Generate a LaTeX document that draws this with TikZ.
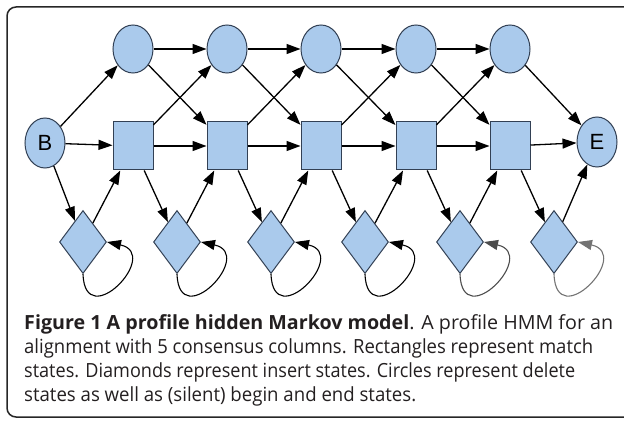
\documentclass[tikz,border=0pt]{standalone}
\usepackage{fontspec}
\usepackage{graphicx}
\setmainfont{Open Sans}
\newfontfamily\nodefont{Liberation Sans}
\usetikzlibrary{shapes.geometric,arrows.meta}
\definecolor{nfill}{RGB}{170,202,236}
\definecolor{nline}{RGB}{50,64,84}
\definecolor{capcol}{RGB}{35,31,32}
\newcommand\fitw[2]{\setbox0=\hbox{#2}\pgfmathsetmacro\fitfac{#1pt/\the\wd0}\scalebox{\fitfac}[1]{\box0}}
\begin{document}
\begin{tikzpicture}[x=1pt,y=-1pt,
  st/.style={draw=nline, fill=nfill, line width=1pt, inner sep=0pt},
  del/.style={st, ellipse, minimum width=40pt, minimum height=48pt},
  mat/.style={st, rectangle, minimum width=40pt, minimum height=48pt},
  ins/.style={st, diamond, minimum width=47pt, minimum height=63pt},
  conn/.style={-{Triangle[length=14pt,width=10pt]}, line width=1.3pt, black},
  loopc/.style={-{Triangle[length=14pt,width=10pt]}, line width=1.1pt},
  captxt/.style={anchor=base west, inner sep=0pt, text=capcol, font=\fontsize{19.5}{24}\selectfont}
]
\useasboundingbox (0,0) rectangle (624,422);
\draw[line width=1.5pt, draw=black!85, rounded corners=9pt] (7,7) rectangle (640,417);

% begin / end
\node[st, ellipse, minimum width=40pt, minimum height=50pt, font=\nodefont\fontsize{22}{22}\selectfont] (B) at (45,143) {B};
\node[st, ellipse, minimum width=40pt, minimum height=50pt, font=\nodefont\fontsize{22}{22}\selectfont] (E) at (597,142) {E};

% delete, match, insert states
\foreach \i/\x in {1/133,2/227,3/321,4/416,5/510}{
  \node[del] (D\i) at (\x,49) {};
  \node[mat] (M\i) at (\x,146) {};
}
\foreach \i/\x in {0/83,1/177,2/271,3/365,4/460,5/554}{
  \node[ins] (I\i) at (\x,242) {};
}

% transitions from B
\draw[conn] (B) -- (D1);
\draw[conn] (B) -- (M1);
\draw[conn] (B) -- (I0);

% delete / match transitions
\foreach \i/\j in {1/2,2/3,3/4,4/5}{
  \draw[conn] (D\i) -- (D\j);
  \draw[conn] (D\i) -- (M\j);
  \draw[conn] (M\i) -- (M\j);
  \draw[conn] (M\i) -- (D\j);
}
\draw[conn] (D5) -- (E);
\draw[conn] (M5) -- (E);

% match to insert
\foreach \i in {1,2,3,4,5}{
  \draw[conn] (M\i) -- (I\i);
}
% insert to match
\foreach \i/\j in {0/1,1/2,2/3,3/4,4/5}{
  \draw[conn] (I\i) -- (M\j);
}
\draw[conn] (I5) -- (E);

% self loops
\foreach \i/\c in {0/black,1/black,2/black,3/black,4/black!70,5/black!55}{
  \draw[loopc, draw=\c] (I\i.south) .. controls +(2,60) and +(55,12) .. (I\i.east);
}

% caption
\node[captxt] (c1) at (24,329) {\fitw{589}{\textbf{Figure 1 A profile hidden Markov model}. A profile HMM for an}};
\node[captxt] (c2) at (24,353) {\fitw{569}{alignment with 5 consensus columns. Rectangles represent match}};
\node[captxt] (c3) at (24,377) {\fitw{551}{states. Diamonds represent insert states. Circles represent delete}};
\node[captxt] (c4) at (24,401) {\fitw{392}{states as well as (silent) begin and end states.}};
\end{tikzpicture}
\end{document}
